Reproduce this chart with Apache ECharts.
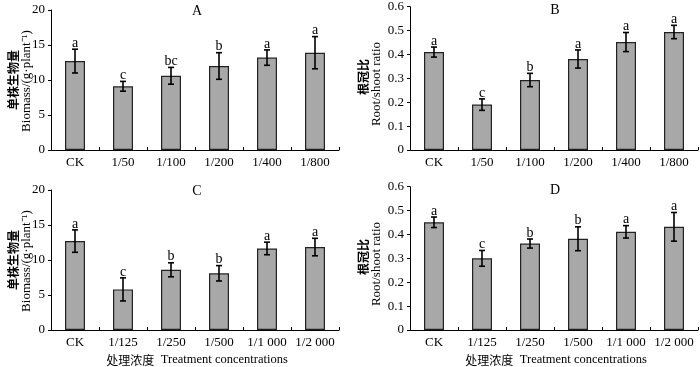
<!DOCTYPE html>
<html>
<head>
<meta charset="utf-8">
<script src="https://cdn.jsdelivr.net/npm/echarts@6/dist/echarts.min.js"></script>
<style>
  html, body { margin: 0; padding: 0; background: #fff; }
  #chart { width: 700px; height: 367px; }
</style>
</head>
<body>
<div id="chart"></div>
<script>
// categories
const catsTop = ['CK', '1/50', '1/100', '1/200', '1/400', '1/800'];
const catsBottom = ['CK', '1/125', '1/250', '1/500', '1/1 000', '1/2 000'];

// A: biomass, top row
const biomassA = [12.7, 9.1, 10.6, 12.0, 13.2, 13.9];
const biomassAErr = [1.7, 0.7, 1.2, 1.9, 1.1, 2.3];
const lettersA = ['a', 'c', 'bc', 'b', 'a', 'a'];

// B: root/shoot ratio, top row
const ratioB = [0.41, 0.19, 0.293, 0.381, 0.452, 0.494];
const ratioBErr = [0.021, 0.024, 0.028, 0.038, 0.04, 0.028];
const lettersB = ['a', 'c', 'b', 'a', 'a', 'a'];

// C: biomass, bottom row
const biomassC = [12.7, 5.8, 8.6, 8.1, 11.65, 11.85];
const biomassCErr = [1.6, 1.65, 1.0, 1.1, 0.9, 1.25];
const lettersC = ['a', 'c', 'b', 'b', 'a', 'a'];

// D: root/shoot ratio, bottom row
const ratioD = [0.451, 0.30, 0.362, 0.382, 0.411, 0.432];
const ratioDErr = [0.022, 0.033, 0.019, 0.05, 0.026, 0.06];
const lettersD = ['a', 'c', 'b', 'b', 'a', 'a'];

const ticksBiomass = [0, 5, 10, 15, 20];
const ticksRatio = [0, 0.1, 0.2, 0.3, 0.4, 0.5, 0.6];

const serif = '"Liberation Serif", "Times New Roman", serif';
const cjk = '"Noto Sans CJK SC", sans-serif';

const myChart = echarts.init(document.getElementById('chart'));

const grids = [
  { left: 51, top: 10, width: 288, height: 140 },
  { left: 410, top: 6.7, width: 288, height: 143.3 },
  { left: 51, top: 190, width: 288, height: 140 },
  { left: 410, top: 186.7, width: 288, height: 143.3 }
];

const panels = [
  { cats: catsTop, vals: biomassA, errs: biomassAErr, letters: lettersA, ticks: ticksBiomass },
  { cats: catsTop, vals: ratioB, errs: ratioBErr, letters: lettersB, ticks: ticksRatio },
  { cats: catsBottom, vals: biomassC, errs: biomassCErr, letters: lettersC, ticks: ticksBiomass },
  { cats: catsBottom, vals: ratioD, errs: ratioDErr, letters: lettersD, ticks: ticksRatio }
];

let xAxis = [], yAxis = [], series = [];
panels.forEach(function (p, i) {
  xAxis.push({
    type: 'category',
    gridIndex: i,
    data: p.cats,
    axisLine: { lineStyle: { color: '#000', width: 1 } },
    axisTick: { show: true, inside: true, length: 3, lineStyle: { color: '#000' } },
    axisLabel: { color: '#000', fontFamily: serif, fontSize: 13, margin: 6, interval: 0 },
    splitLine: { show: false }
  });
  let tmax = p.ticks[p.ticks.length - 1];
  yAxis.push({
    type: 'value',
    gridIndex: i,
    min: p.ticks[0],
    max: tmax,
    interval: p.ticks[1] - p.ticks[0],
    axisLine: { show: true, lineStyle: { color: '#000', width: 1 } },
    axisTick: { show: true, length: 3, lineStyle: { color: '#000' } },
    axisLabel: {
      color: '#000', fontFamily: serif, fontSize: 13, margin: 6,
      formatter: function (v) { return tmax < 1 ? (v === 0 ? '0' : v.toFixed(1)) : String(v); }
    },
    splitLine: { show: false }
  });
  series.push({
    type: 'bar',
    xAxisIndex: i,
    yAxisIndex: i,
    data: p.vals,
    barWidth: 20,
    itemStyle: { color: '#a8a8a8', borderColor: '#222', borderWidth: 1.2 },
    silent: true
  });
  series.push({
    type: 'custom',
    xAxisIndex: i,
    yAxisIndex: i,
    data: p.vals.map(function (v, k) { return [k, v, p.errs[k]]; }),
    renderItem: function (params, api) {
      let x = api.value(0), v = api.value(1), e = api.value(2);
      let top = api.coord([x, v + e]);
      let bot = api.coord([x, v - e]);
      let hw = 3;
      let st = { stroke: '#000', lineWidth: 1.6 };
      return {
        type: 'group',
        children: [
          { type: 'line', shape: { x1: top[0], y1: top[1], x2: bot[0], y2: bot[1] }, style: st },
          { type: 'line', shape: { x1: top[0] - hw, y1: top[1], x2: top[0] + hw, y2: top[1] }, style: st },
          { type: 'line', shape: { x1: bot[0] - hw, y1: bot[1], x2: bot[0] + hw, y2: bot[1] }, style: st },
          {
            type: 'text',
            x: top[0], y: top[1] + 1,
            style: {
              text: p.letters[params.dataIndex],
              fill: '#000', font: '14px ' + serif,
              textAlign: 'center', textVerticalAlign: 'bottom'
            }
          }
        ]
      };
    },
    silent: true,
    z: 5
  });
});

// panel letters and axis titles
function ytitle(x, y, txt, font) {
  return {
    type: 'text', x: x, y: y, rotation: Math.PI / 2,
    style: { text: txt, font: font, fill: '#000', textAlign: 'center', textVerticalAlign: 'middle' }
  };
}
function plain(x, y, txt, font) {
  return {
    type: 'text', x: x, y: y,
    style: { text: txt, font: font, fill: '#000', textAlign: 'center', textVerticalAlign: 'middle' }
  };
}
function xtitle(x) {
  return {
    type: 'text', x: x, y: 360,
    style: {
      text: '{c|处理浓度}  {e|Treatment concentrations}',
      rich: { c: { font: '12px ' + cjk, fill: '#000' }, e: { font: '12.5px ' + serif, fill: '#000' } },
      textAlign: 'center', textVerticalAlign: 'middle'
    }
  };
}

let graphic = [
  plain(197, 11, 'A', '14px ' + serif),
  plain(555, 10, 'B', '14px ' + serif),
  plain(197, 191, 'C', '14px ' + serif),
  plain(555, 190, 'D', '14px ' + serif),
  ytitle(13, 80, '单株生物量', 'bold 12px ' + cjk),
  ytitle(27, 81, 'Biomass/(g·plant⁻¹)', '13px ' + serif),
  ytitle(13, 260, '单株生物量', 'bold 12px ' + cjk),
  ytitle(27, 261, 'Biomass/(g·plant⁻¹)', '13px ' + serif),
  ytitle(363, 77, '根冠比', 'bold 12px ' + cjk),
  ytitle(377, 84, 'Root/shoot ratio', '13px ' + serif),
  ytitle(363, 257, '根冠比', 'bold 12px ' + cjk),
  ytitle(377, 264, 'Root/shoot ratio', '13px ' + serif),
  xtitle(197),
  xtitle(556)
];

let option = {
  animation: false,
  backgroundColor: '#fff',
  grid: grids,
  xAxis: xAxis,
  yAxis: yAxis,
  series: series,
  graphic: graphic
};
myChart.setOption(option);
</script>
</body>
</html>
